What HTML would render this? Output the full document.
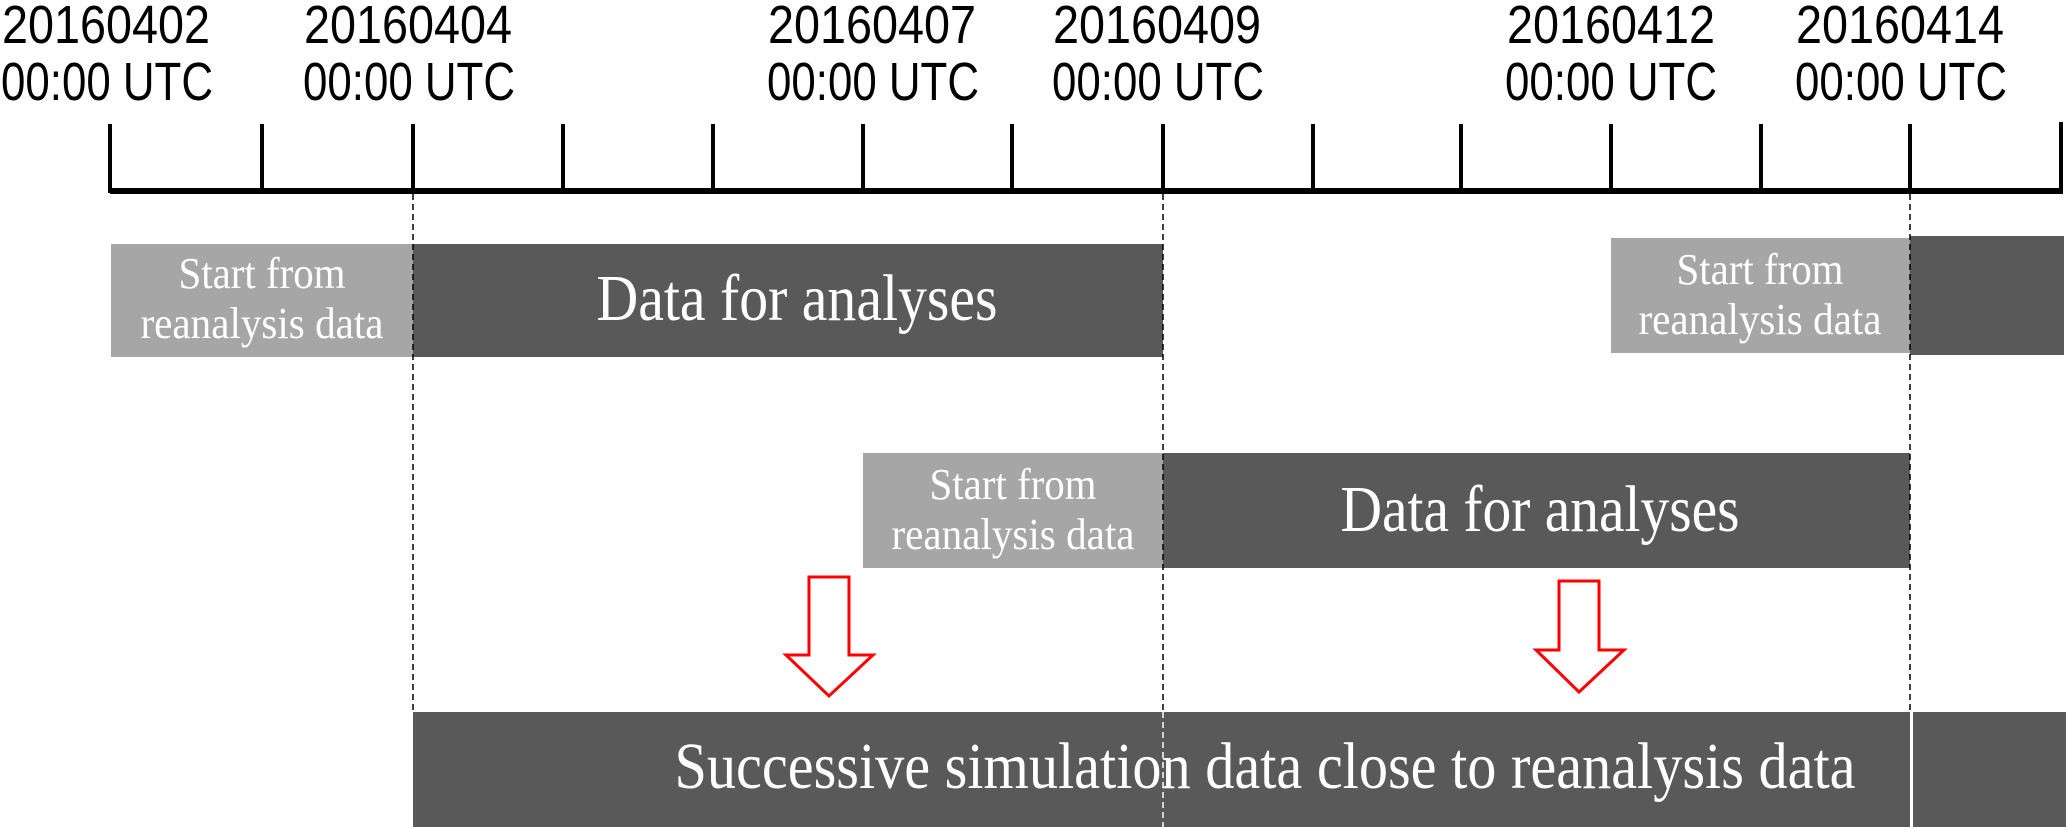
<!DOCTYPE html>
<html><head><meta charset="utf-8"><style>
html,body{margin:0;padding:0;background:#fff;}
svg{display:block;}
</style></head><body>
<svg width="2067" height="827" viewBox="0 0 2067 827" xmlns="http://www.w3.org/2000/svg">
<g font-family="'Liberation Sans', sans-serif" font-size="54" fill="#000">
<text x="2" y="43" textLength="208" lengthAdjust="spacingAndGlyphs">20160402</text>
<text x="1" y="100" textLength="212" lengthAdjust="spacingAndGlyphs">00:00 UTC</text>
<text x="304" y="43" textLength="208" lengthAdjust="spacingAndGlyphs">20160404</text>
<text x="303" y="100" textLength="212" lengthAdjust="spacingAndGlyphs">00:00 UTC</text>
<text x="768" y="43" textLength="208" lengthAdjust="spacingAndGlyphs">20160407</text>
<text x="767" y="100" textLength="212" lengthAdjust="spacingAndGlyphs">00:00 UTC</text>
<text x="1053" y="43" textLength="208" lengthAdjust="spacingAndGlyphs">20160409</text>
<text x="1052" y="100" textLength="212" lengthAdjust="spacingAndGlyphs">00:00 UTC</text>
<text x="1507" y="43" textLength="208" lengthAdjust="spacingAndGlyphs">20160412</text>
<text x="1505" y="100" textLength="212" lengthAdjust="spacingAndGlyphs">00:00 UTC</text>
<text x="1796" y="43" textLength="208" lengthAdjust="spacingAndGlyphs">20160414</text>
<text x="1795" y="100" textLength="212" lengthAdjust="spacingAndGlyphs">00:00 UTC</text>
</g>
<g stroke="#000" stroke-width="4">
<line x1="110" y1="124" x2="110" y2="193"/>
<line x1="262" y1="124" x2="262" y2="193"/>
<line x1="413" y1="124" x2="413" y2="193"/>
<line x1="563" y1="124" x2="563" y2="193"/>
<line x1="713" y1="124" x2="713" y2="193"/>
<line x1="863" y1="124" x2="863" y2="193"/>
<line x1="1012" y1="124" x2="1012" y2="193"/>
<line x1="1163" y1="124" x2="1163" y2="193"/>
<line x1="1313" y1="124" x2="1313" y2="193"/>
<line x1="1461" y1="124" x2="1461" y2="193"/>
<line x1="1611" y1="124" x2="1611" y2="193"/>
<line x1="1761" y1="124" x2="1761" y2="193"/>
<line x1="1910" y1="124" x2="1910" y2="193"/>
<line x1="2061" y1="122" x2="2061" y2="193"/>
</g>
<rect x="110" y="188" width="1953" height="6" fill="#000"/>
<rect x="111" y="244" width="302" height="113" fill="#a6a6a6"/>
<rect x="413" y="244" width="750" height="113" fill="#595959"/>
<rect x="1611" y="238" width="299" height="115" fill="#a6a6a6"/>
<rect x="1910" y="236" width="154" height="119" fill="#595959"/>
<rect x="863" y="453" width="300" height="115" fill="#a6a6a6"/>
<rect x="1163" y="453" width="747" height="115" fill="#595959"/>
<rect x="413" y="712" width="1497" height="115" fill="#595959"/>
<rect x="1913" y="712" width="153" height="115" fill="#595959"/>
<g stroke="#000" stroke-width="1.5" stroke-dasharray="6,4">
<line x1="413" y1="194" x2="413" y2="712"/>
<line x1="1163" y1="194" x2="1163" y2="712"/>
<line x1="1910" y1="194" x2="1910" y2="712"/>
</g>
<g stroke="#fff" stroke-width="1.5" stroke-dasharray="6,4">
<line x1="1163" y1="712" x2="1163" y2="827"/>
<line x1="1911" y1="712" x2="1911" y2="827"/>
</g>
<polygon points="809,577 849,577 849,655 873,655 829,696 786,655 809,655" fill="#fff" stroke="#f00" stroke-width="3"/>
<polygon points="1559,581 1599,581 1599,650 1624,650 1579,692 1536,650 1559,650" fill="#fff" stroke="#f00" stroke-width="3"/>
<g font-family="'Liberation Serif', serif" fill="#fff" text-anchor="middle">
<text x="262" y="288" font-size="44" textLength="167" lengthAdjust="spacingAndGlyphs">Start from</text>
<text x="262" y="338" font-size="44" textLength="243" lengthAdjust="spacingAndGlyphs">reanalysis data</text>
<text x="1760" y="284" font-size="44" textLength="167" lengthAdjust="spacingAndGlyphs">Start from</text>
<text x="1760" y="334" font-size="44" textLength="243" lengthAdjust="spacingAndGlyphs">reanalysis data</text>
<text x="1013" y="499" font-size="44" textLength="167" lengthAdjust="spacingAndGlyphs">Start from</text>
<text x="1013" y="549" font-size="44" textLength="243" lengthAdjust="spacingAndGlyphs">reanalysis data</text>
<text x="797" y="320" font-size="66" textLength="401" lengthAdjust="spacingAndGlyphs">Data for analyses</text>
<text x="1540" y="531" font-size="66" textLength="399" lengthAdjust="spacingAndGlyphs">Data for analyses</text>
<text x="1265" y="788" font-size="66" textLength="1181" lengthAdjust="spacingAndGlyphs">Successive simulation data close to reanalysis data</text>
</g>
</svg>
</body></html>
